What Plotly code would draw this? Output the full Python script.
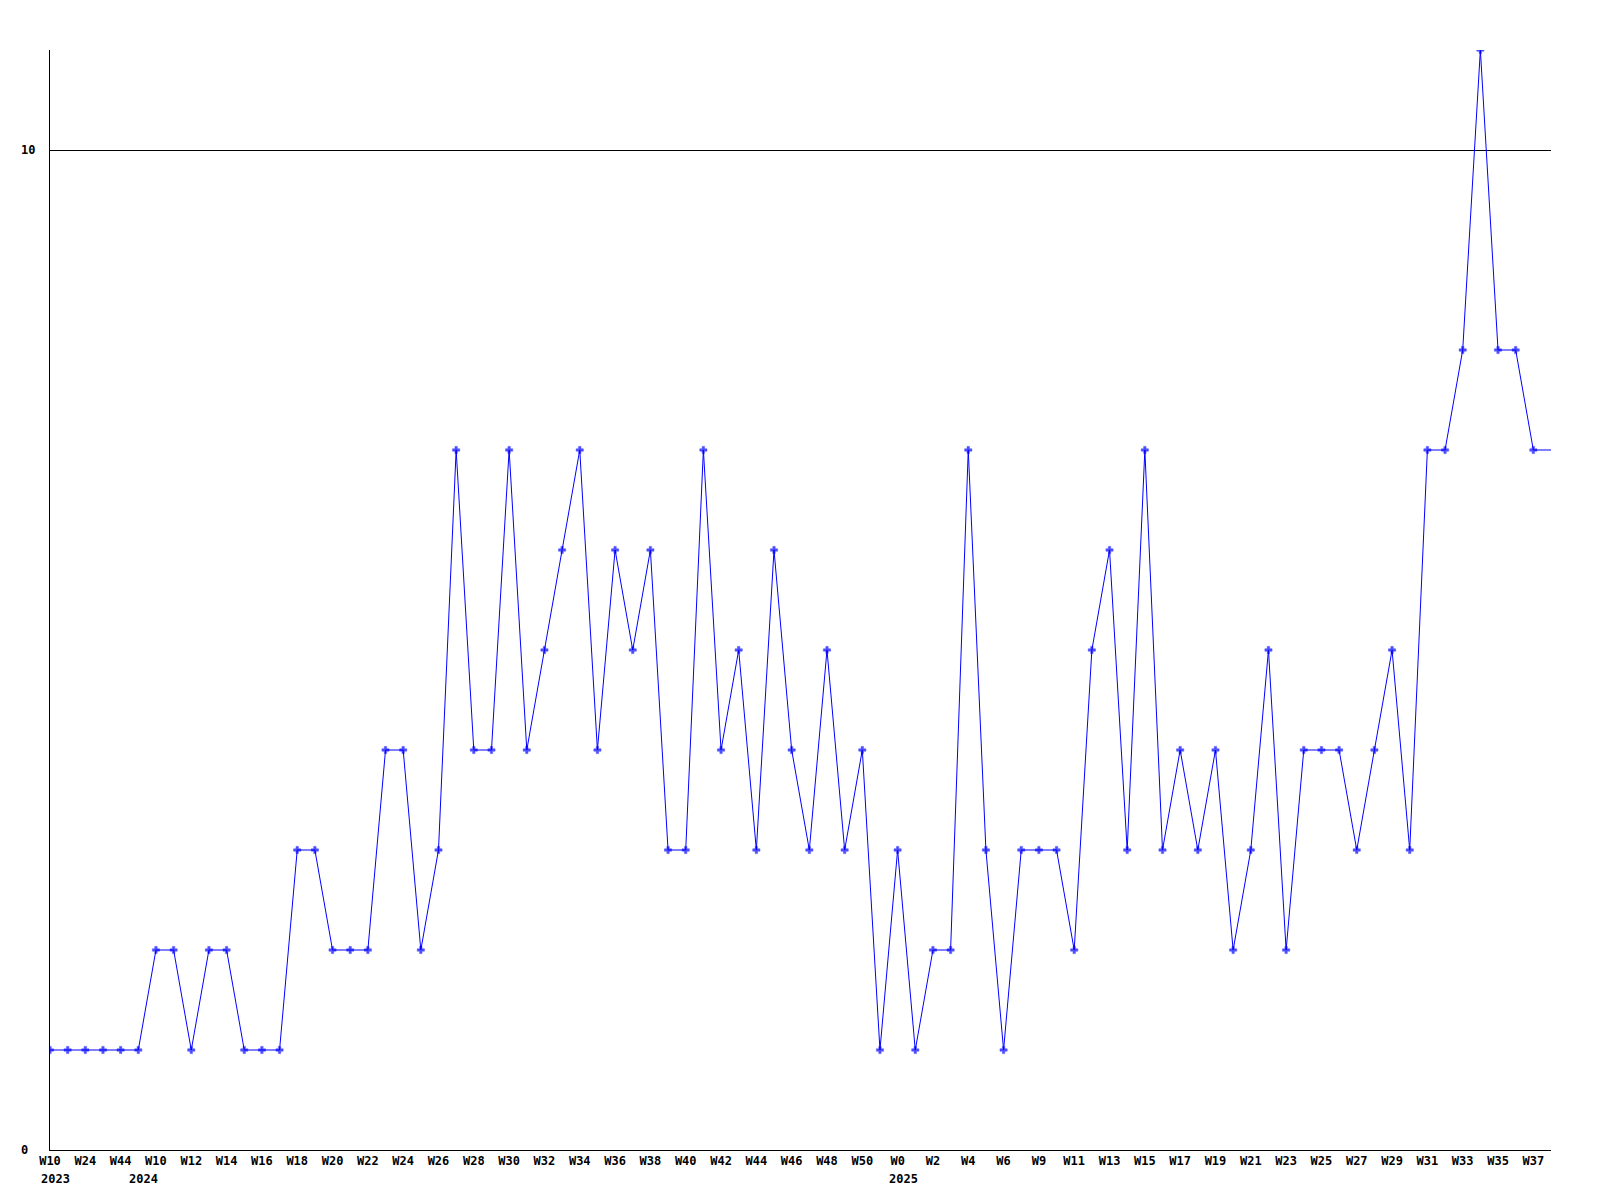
import plotly.graph_objects as go

# Week labels shown under every other point
tick_labels = ["W10", "W24", "W44", "W10", "W12", "W14", "W16", "W18", "W20", "W22",
               "W24", "W26", "W28", "W30", "W32", "W34", "W36", "W38", "W40", "W42",
               "W44", "W46", "W48", "W50", "W0", "W2", "W4", "W6", "W9", "W11",
               "W13", "W15", "W17", "W19", "W21", "W23", "W25", "W27", "W29", "W31",
               "W33", "W35", "W37"]
year_labels = ["2023", "2024", "2025"]
year_point_idx = [0, 5, 48]   # point index where each year starts

values = [1, 1, 1, 1, 1, 1, 2, 2, 1, 2, 2, 1, 1, 1, 3, 3, 2, 2, 2, 4,
          4, 2, 3, 7, 4, 4, 7, 4, 5, 6, 7, 4, 6, 5, 6, 3, 3, 7, 4, 5,
          3, 6, 4, 3, 5, 3, 4, 1, 3, 1, 2, 2, 7, 3, 1, 3, 3, 3, 2, 5,
          6, 3, 7, 3, 4, 3, 4, 2, 3, 5, 2, 4, 4, 4, 3, 4, 5, 3, 7, 7,
          8, 11, 8, 8, 7, 7]

y_ticks = [0, 10]

n = len(values)
x = list(range(n))
tick_vals = [2 * i for i in range(len(tick_labels))]

FONT = "DejaVu Sans Mono"
BLUE = "#0000ff"

fig = go.Figure()
fig.add_trace(go.Scatter(
    x=x, y=values, mode="lines+markers",
    line=dict(color=BLUE, width=1),
    marker=dict(symbol="cross", size=[6] * (n - 1) + [0], color=BLUE,
                line=dict(width=0.5, color=BLUE)),
    showlegend=False, hoverinfo="x+y",
))

annotations = []
for yv in y_ticks:
    annotations.append(dict(
        x=0, xref="paper", y=yv, yref="y", text=f"<b>{yv}</b>",
        showarrow=False, xanchor="left", yanchor="middle", xshift=-31,
        font=dict(family=FONT, size=12, color="black"),
    ))
for lbl, idx in zip(year_labels, year_point_idx):
    annotations.append(dict(
        x=x[idx], xref="x", y=0, yref="paper", text=f"<b>{lbl}</b>",
        showarrow=False, xanchor="left", yanchor="top", xshift=-11, yshift=-20,
        font=dict(family=FONT, size=12, color="black"),
    ))

fig.update_layout(
    width=1600, height=1200,
    margin=dict(l=42, r=57, t=42, b=58),
    paper_bgcolor="white", plot_bgcolor="white",
    font=dict(family=FONT, size=12, color="black"),
    annotations=annotations,
    xaxis=dict(
        range=[0, n - 1], tickmode="array", tickvals=tick_vals,
        ticktext=[f"<b>{t}</b>" for t in tick_labels],
        showgrid=False, zeroline=False, showline=True, linecolor="black",
        linewidth=1, ticks="", tickfont=dict(family=FONT, size=12, color="black"),
    ),
    yaxis=dict(
        range=[0, 11], tickmode="array", tickvals=y_ticks,
        showticklabels=False, showgrid=True, gridcolor="black", gridwidth=1,
        zeroline=False, showline=True, linecolor="black", linewidth=1, ticks="",
    ),
)

fig.write_html("out.html")
